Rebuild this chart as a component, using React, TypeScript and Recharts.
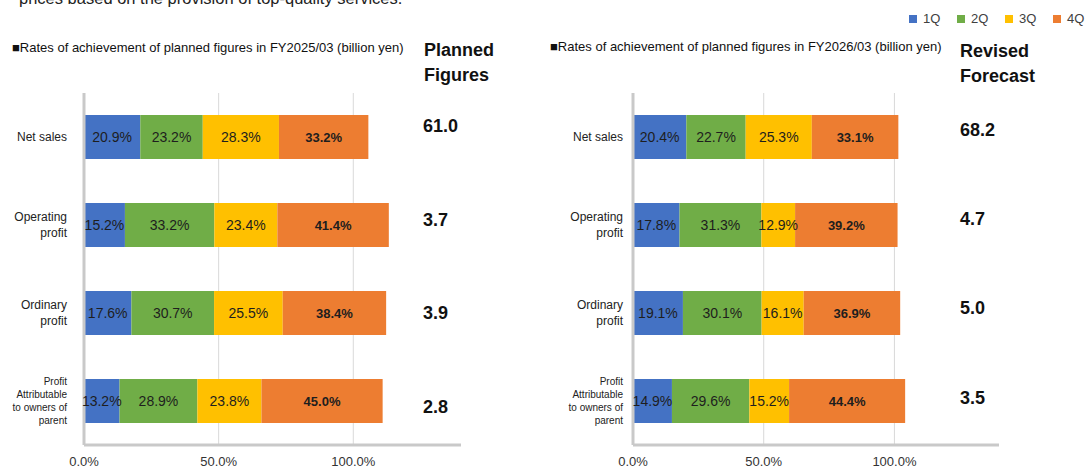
import React from 'react';
import { BarChart, Bar, XAxis, YAxis, CartesianGrid, LabelList } from 'recharts';

// ---------- data ----------
const CATEGORY_LINES: string[][] = [
  ['Net sales'],
  ['Operating', 'profit'],
  ['Ordinary', 'profit'],
  ['Profit', 'Attributable', 'to owners of', 'parent'],
];
const CATEGORY_NAMES = CATEGORY_LINES.map((l) => l.join(' '));

const SERIES_NAMES = ['1Q', '2Q', '3Q', '4Q'];
const SERIES_COLORS = ['#4472C4', '#70AD47', '#FFC000', '#ED7D31'];

const FY2025_Q1 = [20.9, 15.2, 17.6, 13.2];
const FY2025_Q2 = [23.2, 33.2, 30.7, 28.9];
const FY2025_Q3 = [28.3, 23.4, 25.5, 23.8];
const FY2025_Q4 = [33.2, 41.4, 38.4, 45.0];
const FY2025_PLANNED = ['61.0', '3.7', '3.9', '2.8'];

const FY2026_Q1 = [20.4, 17.8, 19.1, 14.9];
const FY2026_Q2 = [22.7, 31.3, 30.1, 29.6];
const FY2026_Q3 = [25.3, 12.9, 16.1, 15.2];
const FY2026_Q4 = [33.1, 39.2, 36.9, 44.4];
const FY2026_REVISED = ['68.2', '4.7', '5.0', '3.5'];

const X_TICKS = [0, 50, 100];
const X_DOMAIN: [number, number] = [0, 140];

const TITLE_LEFT = '\u25A0Rates of achievement of planned figures in FY2025/03 (billion yen)';
const TITLE_RIGHT = '\u25A0Rates of achievement of planned figures in FY2026/03 (billion yen)';
const HEADER_LEFT = ['Planned', 'Figures'];
const HEADER_RIGHT = ['Revised', 'Forecast'];
const TOP_TEXT = 'prices based on the provision of top-quality services.';

// ---------- styles ----------
const FONT = '"Liberation Sans", Arial, Helvetica, sans-serif';
const AXIS_COLOR = '#C9C9C9';
const GRID_COLOR = '#D9D9D9';
const LEFT_VALUE_DY = [-11, -5, 0, 6];
const RIGHT_VALUE_DY = [-7, -6, -5, -3];

function buildRows(q1: number[], q2: number[], q3: number[], q4: number[]) {
  return CATEGORY_NAMES.map((name, i) => ({
    name,
    q1: q1[i],
    q2: q2[i],
    q3: q3[i],
    q4: q4[i],
  }));
}

const leftRows = buildRows(FY2025_Q1, FY2025_Q2, FY2025_Q3, FY2025_Q4);
const rightRows = buildRows(FY2026_Q1, FY2026_Q2, FY2026_Q3, FY2026_Q4);
const KEYS = ['q1', 'q2', 'q3', 'q4'];

// vertical grid lines only at the x ticks (drop the extra plot-edge line)
function GridLine(p: any) {
  if (typeof p.index === 'number' && p.index >= X_TICKS.length) {
    return <g key={p.key} />;
  }
  return (
    <line
      key={p.key}
      x1={p.x1}
      y1={p.y1}
      x2={p.x2}
      y2={p.y2}
      stroke={GRID_COLOR}
      strokeWidth={1}
      fill="none"
    />
  );
}

// category label on the left + the plan/forecast value on the right of the row
function CategoryTick(props: any) {
  const { x, y, payload, gap, values, valueDx, valueDys } = props;
  const idx = CATEGORY_NAMES.indexOf(payload.value);
  const lines = CATEGORY_LINES[idx] || [String(payload.value)];
  const small = lines.length > 2;
  const fs = small ? 10 : 12;
  const lh = small ? 12.8 : 16;
  const n = lines.length;
  return (
    <g>
      {lines.map((line, i) => (
        <text
          key={i}
          x={x - gap}
          y={y + (i - (n - 1) / 2) * lh}
          dy="0.35em"
          textAnchor="end"
          fontSize={fs}
          fontFamily={FONT}
          fill="#222"
        >
          {line}
        </text>
      ))}
      {idx >= 0 && (
        <text
          x={x + valueDx}
          y={y + (valueDys[idx] || 0)}
          dy="0.35em"
          textAnchor="start"
          fontSize={18}
          fontWeight="bold"
          fontFamily={FONT}
          fill="#111"
        >
          {values[idx]}
        </text>
      )}
    </g>
  );
}

function StackChart(props: {
  rows: any[];
  width: number;
  axisWidth: number;
  marginRight: number;
  labelGap: number;
  values: string[];
  valueDx: number;
  valueDys: number[];
}) {
  const { rows, width, axisWidth, marginRight, labelGap, values, valueDx, valueDys } = props;
  return (
    <BarChart
      width={width}
      height={468}
      data={rows}
      layout="vertical"
      barSize={44}
      margin={{ top: 93, right: marginRight, bottom: 0, left: 0 }}
      style={{ fontFamily: FONT, overflow: 'visible' }}
    >
      <CartesianGrid
        horizontal={false}
        stroke={GRID_COLOR}
        syncWithTicks
        vertical={(p: any) => <GridLine {...p} />}
      />
      <XAxis
        type="number"
        domain={X_DOMAIN}
        ticks={X_TICKS}
        allowDataOverflow
        tickFormatter={(v: number) => `${v.toFixed(1)}%`}
        height={23}
        tickLine={false}
        tickSize={10}
        tickMargin={2}
        axisLine={{ stroke: AXIS_COLOR, strokeWidth: 3 }}
        tick={{ fontSize: 13, fill: '#333', fontFamily: FONT }}
      />
      <YAxis
        type="category"
        dataKey="name"
        width={axisWidth}
        tickLine={false}
        tickSize={0}
        tickMargin={0}
        axisLine={{ stroke: AXIS_COLOR, strokeWidth: 3 }}
        tick={(p: any) => (
          <CategoryTick
            {...p}
            gap={labelGap}
            values={values}
            valueDx={valueDx}
            valueDys={valueDys}
          />
        )}
      />
      {KEYS.map((k, i) => (
        <Bar
          key={k}
          dataKey={k}
          name={SERIES_NAMES[i]}
          stackId="s"
          fill={SERIES_COLORS[i]}
          isAnimationActive={false}
        >
          <LabelList
            dataKey={k}
            position="center"
            formatter={(v: any) => `${Number(v).toFixed(1)}%`}
            fill="#1E1E1E"
            fontSize={i === 3 ? 13 : 14}
            fontWeight={i === 3 ? 'bold' : 'normal'}
            fontFamily={FONT}
          />
        </Bar>
      ))}
    </BarChart>
  );
}

export default function App() {
  return (
    <div
      style={{
        position: 'absolute',
        left: 0,
        top: 0,
        width: 1091,
        height: 468,
        background: '#fff',
        overflow: 'hidden',
        fontFamily: FONT,
        color: '#111',
      }}
    >
      <div
        style={{
          position: 'absolute',
          left: 19,
          top: -10,
          fontSize: 16.5,
          lineHeight: '16px',
          whiteSpace: 'nowrap',
          color: '#222',
        }}
      >
        {TOP_TEXT}
      </div>

      <div style={{ position: 'absolute', left: 0, top: 0 }}>
        <StackChart
          rows={leftRows}
          width={545}
          axisWidth={84}
          marginRight={84}
          labelGap={17}
          values={FY2025_PLANNED}
          valueDx={339}
          valueDys={LEFT_VALUE_DY}
        />
      </div>
      <div style={{ position: 'absolute', left: 545, top: 0 }}>
        <StackChart
          rows={rightRows}
          width={546}
          axisWidth={88}
          marginRight={92}
          labelGap={10}
          values={FY2026_REVISED}
          valueDx={327}
          valueDys={RIGHT_VALUE_DY}
        />
      </div>

      <div
        style={{
          position: 'absolute',
          left: 12,
          top: 40,
          fontSize: 13,
          lineHeight: '16px',
          whiteSpace: 'nowrap',
          color: '#111',
        }}
      >
        {TITLE_LEFT}
      </div>
      <div
        style={{
          position: 'absolute',
          left: 550,
          top: 39,
          fontSize: 13,
          lineHeight: '16px',
          whiteSpace: 'nowrap',
          color: '#111',
        }}
      >
        {TITLE_RIGHT}
      </div>

      <div
        style={{
          position: 'absolute',
          left: 424,
          top: 37.5,
          fontSize: 18,
          lineHeight: '25px',
          fontWeight: 'bold',
          whiteSpace: 'nowrap',
        }}
      >
        {HEADER_LEFT.map((t) => (
          <div key={t}>{t}</div>
        ))}
      </div>
      <div
        style={{
          position: 'absolute',
          left: 960,
          top: 39,
          fontSize: 18,
          lineHeight: '25px',
          fontWeight: 'bold',
          whiteSpace: 'nowrap',
        }}
      >
        {HEADER_RIGHT.map((t) => (
          <div key={t}>{t}</div>
        ))}
      </div>

      <div
        style={{
          position: 'absolute',
          left: 909,
          top: 11,
          display: 'flex',
          alignItems: 'center',
          height: 16,
        }}
      >
        {SERIES_NAMES.map((s, i) => (
          <div key={s} style={{ display: 'flex', alignItems: 'center', width: 48 }}>
            <span
              style={{
                display: 'inline-block',
                width: 8,
                height: 8,
                background: SERIES_COLORS[i],
                marginRight: 6,
              }}
            />
            <span style={{ fontSize: 13, color: '#404040', lineHeight: '16px' }}>{s}</span>
          </div>
        ))}
      </div>
    </div>
  );
}
